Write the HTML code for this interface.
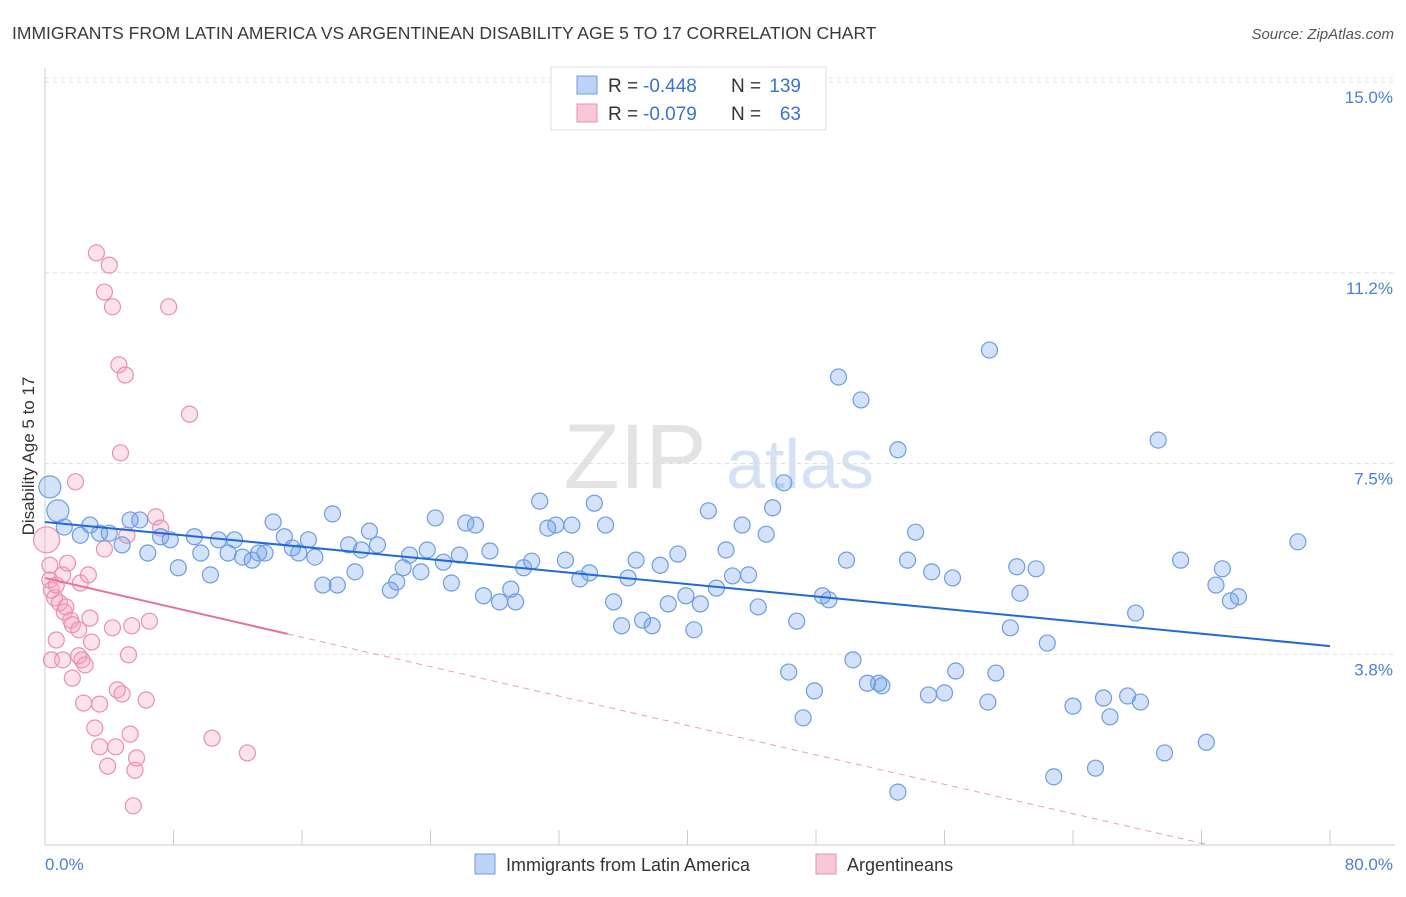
<!DOCTYPE html>
<html><head><meta charset="utf-8">
<style>
body{margin:0;background:#fff;font-family:"Liberation Sans",sans-serif;}
svg text{font-family:"Liberation Sans",sans-serif;}
</style></head>
<body>
<svg id="chart" width="1406" height="892" xmlns="http://www.w3.org/2000/svg">
<text x="12" y="39" font-size="17.5" fill="#3a3a3a">IMMIGRANTS FROM LATIN AMERICA VS ARGENTINEAN DISABILITY AGE 5 TO 17 CORRELATION CHART</text>
<text x="1394" y="39" font-size="15" fill="#555" text-anchor="end" font-style="italic">Source: ZipAtlas.com</text>
<g>
<text x="635" y="488" font-size="92" fill="#d8d8d8" font-family="Liberation Serif" text-anchor="middle" opacity="0.7">ZIP</text>
<text x="800" y="488" font-size="70" fill="#b9cfee" text-anchor="middle" opacity="0.6">atlas</text>
</g>
<g id="grid"></g>
<g id="axes"></g>
<g id="marks"></g>
<g id="trends"></g>
<text transform="translate(34,456) rotate(-90)" font-size="17" fill="#333" text-anchor="middle">Disability Age 5 to 17</text>
<text x="45" y="870" font-size="17" fill="#4a7fd4">0.0%</text>
<text x="1393" y="870" font-size="17" fill="#4a7fd4" text-anchor="end">80.0%</text>
<g>
<rect x="551" y="67" width="275" height="63" fill="#fff" stroke="#ddd"/>
<rect x="577" y="76" width="20" height="18" fill="#bcd3f5" stroke="#6d9de0"/>
<rect x="577" y="104" width="20" height="18" fill="#f9c8d8" stroke="#e890b0"/>
<text x="608" y="92" font-size="19" fill="#333">R =</text>
<text x="643" y="92" font-size="19" fill="#3a73d0">-0.448</text>
<text x="731" y="92" font-size="19" fill="#333">N =</text>
<text x="801" y="92" font-size="19" fill="#3a73d0" text-anchor="end">139</text>
<text x="608" y="120" font-size="19" fill="#333">R =</text>
<text x="643" y="120" font-size="19" fill="#3a73d0">-0.079</text>
<text x="731" y="120" font-size="19" fill="#333">N =</text>
<text x="801" y="120" font-size="19" fill="#3a73d0" text-anchor="end">63</text>
</g>
<g>
<rect x="475" y="854" width="20" height="20" fill="#bcd3f5" stroke="#6d9de0"/>
<text x="506" y="871" font-size="18" fill="#333">Immigrants from Latin America</text>
<rect x="816" y="854" width="20" height="20" fill="#f9c8d8" stroke="#e890b0"/>
<text x="847" y="871" font-size="18" fill="#333">Argentineans</text>
</g>
</svg>
<script>
const yTicks=[3.75,7.5,11.25,15];
const yTickLabels=["3.8%","7.5%","11.2%","15.0%"];
const xTicks=[0,8,16,24,32,40,48,56,64,72,80];
const blueX=[0.3,0.8,1.2,2.2,2.8,3.4,4.0,4.8,5.3,5.9,6.4,7.2,7.8,8.3,9.3,9.7,10.3,10.8,11.4,11.8,12.3,12.9,13.3,13.7,14.2,14.9,15.4,15.8,16.4,16.8,17.3,17.9,18.2,18.9,19.3,19.7,20.2,20.7,21.5,21.9,22.3,22.7,23.4,23.8,24.3,24.8,25.3,25.8,26.2,26.8,27.3,27.7,28.3,29.0,29.3,29.8,30.3,30.8,31.3,31.8,32.4,32.8,33.3,33.9,34.2,34.9,35.4,35.9,36.3,36.8,37.2,37.8,38.3,38.8,39.4,39.9,40.4,40.8,41.3,41.8,42.4,42.8,43.4,43.8,44.4,44.9,45.3,46.0,46.3,46.8,47.2,47.9,48.4,48.8,49.4,49.9,50.3,50.8,51.2,51.9,52.1,53.1,53.1,53.7,54.2,55.0,55.2,56.0,56.5,56.7,58.7,58.8,59.2,60.1,60.5,60.7,61.7,62.4,62.8,64.0,65.4,65.9,66.3,67.4,67.9,68.2,69.3,69.7,70.7,72.3,72.9,73.3,73.8,74.3,78.0];
const blueY=[7.04,6.57,6.25,6.09,6.29,6.13,6.13,5.90,6.39,6.39,5.74,6.06,6.00,5.45,6.06,5.74,5.31,6.00,5.74,6.00,5.66,5.60,5.74,5.74,6.35,6.06,5.84,5.74,6.00,5.66,5.11,6.51,5.11,5.90,5.37,5.80,6.17,5.90,5.01,5.17,5.45,5.70,5.37,5.80,6.43,5.56,5.15,5.70,6.33,6.29,4.90,5.78,4.78,5.03,4.78,5.45,5.58,6.76,6.23,6.29,5.60,6.29,5.23,5.35,6.72,6.29,4.78,4.31,5.25,5.60,4.42,4.31,5.50,4.74,5.72,4.90,4.23,4.74,6.57,5.05,5.80,5.29,6.29,5.31,4.68,6.11,6.63,7.12,3.40,4.40,2.50,3.03,4.90,4.82,9.20,5.60,3.64,8.75,3.18,3.18,3.13,1.04,7.77,5.60,6.15,2.95,5.37,2.99,5.25,3.42,2.81,9.73,3.38,4.27,5.47,4.95,5.43,3.97,1.34,2.73,1.51,2.89,2.52,2.93,4.56,2.81,7.96,1.81,5.60,2.02,5.11,5.43,4.80,4.88,5.96];
const pinkX=[0.1,0.3,0.3,0.4,0.6,0.7,0.9,1.1,1.2,1.3,1.4,1.6,1.7,1.9,2.1,2.2,2.3,2.4,2.7,2.8,0.4,0.7,1.1,1.7,2.1,2.5,2.9,3.1,3.2,3.4,3.4,3.7,3.7,3.9,4.0,4.2,4.2,4.4,4.5,4.6,4.7,4.8,5.0,5.1,5.2,5.3,5.4,5.5,5.6,5.7,6.3,6.5,6.9,7.2,7.7,9.0,10.4,12.6];
const pinkY=[6.00,5.50,5.21,5.01,4.86,5.11,4.76,5.31,4.58,4.68,5.54,4.42,4.33,7.14,4.23,5.15,3.64,2.79,5.31,4.46,3.64,4.03,3.64,3.28,3.72,3.54,3.99,2.30,11.64,2.77,1.93,5.82,10.87,1.55,11.40,10.58,4.27,1.93,3.05,9.44,7.71,2.97,9.24,6.09,3.74,2.18,4.31,0.77,1.47,1.71,2.85,4.40,6.45,6.23,10.58,8.47,2.10,1.81];
const blueTrend=[[0,6.35],[80,3.91]];
const pinkTrendSolid=[[0,5.25],[15.1,4.15]];
const pinkTrendDash=[[15.1,4.15],[72.5,0]];
const NS='http://www.w3.org/2000/svg';
const X=v=>45+v*(1285/80);
const Y=v=>845-v*(763/15);
function mk(tag,attrs,parent){const e=document.createElementNS(NS,tag);for(const k in attrs)e.setAttribute(k,attrs[k]);parent.appendChild(e);return e;}
const gridG=document.getElementById('grid'),axesG=document.getElementById('axes'),marksG=document.getElementById('marks'),trendsG=document.getElementById('trends');
yTicks.forEach((t,i)=>{
 const l=mk('line',{x1:45,x2:1395,y1:Y(t),y2:Y(t),stroke:'#dedede','stroke-dasharray':'4,4'},gridG);
 
 
 const tx=mk('text',{x:1393,y:Y(t)+21,'font-size':17,fill:'#4a7fd4','text-anchor':'end'},axesG);
 tx.textContent=yTickLabels[i];
 
 
});
const topLine=mk('line',{x1:45,x2:1395,y1:Y(15)-4,y2:Y(15)-4,stroke:'#e6e6e6','stroke-dasharray':'4,4'},gridG);


const ya=mk('line',{x1:45,x2:45,y1:68,y2:845,stroke:'#ccc'},axesG);


const xa=mk('line',{x1:45,x2:1395,y1:845,y2:845,stroke:'#ccc'},axesG);


xTicks.forEach(t=>{
 const l=mk('line',{x1:X(t),x2:X(t),y1:830,y2:845,stroke:'#ccc'},axesG);
 
 
});
function dot(x,y,r,fill,stroke,name){
 const c=mk('circle',{cx:X(x),cy:Y(y),r:r,fill:fill,stroke:stroke,'stroke-width':1.2},marksG);
 
 
}
pinkX.forEach((x,i)=>dot(x,pinkY[i],i==0?13:8,'rgba(244,160,190,0.3)','#e890b0','argentineans-point'));
blueX.forEach((x,i)=>dot(x,blueY[i],i<2?11:8,'rgba(110,160,232,0.3)','#6d9de0','latin-america-point'));
function tl(p,color,w,dash,name){
 const l=mk('line',{x1:X(p[0][0]),y1:Y(p[0][1]),x2:X(p[1][0]),y2:Y(p[1][1]),stroke:color,'stroke-width':w},trendsG);
 if(dash)l.setAttribute('stroke-dasharray',dash);
 
 
}
tl(blueTrend,'#1f6ad8',2,null,'latin-america-trend');
tl(pinkTrendSolid,'#e8709a',2,null,'argentineans-trend');
tl(pinkTrendDash,'#eba0ba',1,'6,5','argentineans-trend-extension');
</script>
</body></html>
